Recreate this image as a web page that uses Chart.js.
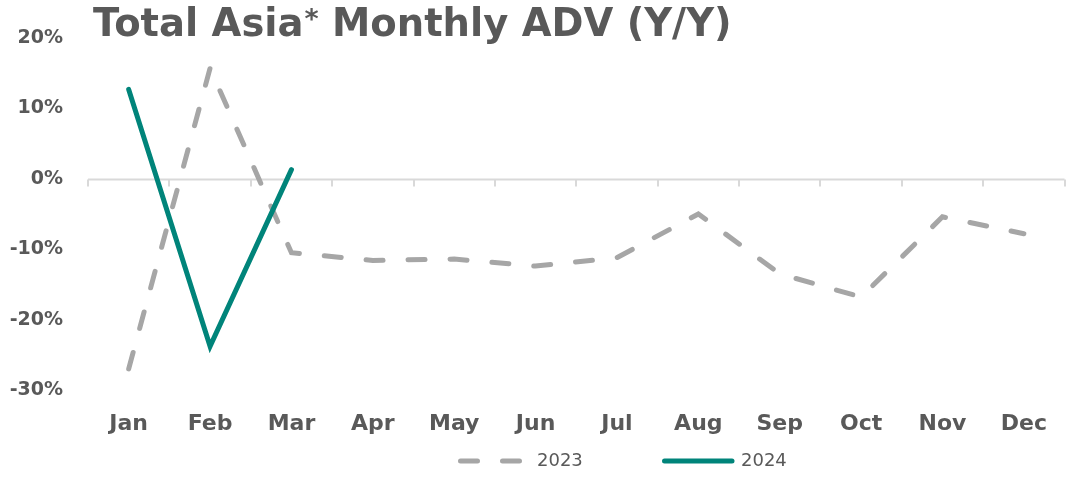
<!DOCTYPE html>
<html>
<head>
<meta charset="utf-8">
<script src="https://cdn.jsdelivr.net/npm/chart.js@4.4.1/dist/chart.umd.min.js"></script>
<style>
  html, body { margin: 0; padding: 0; background: #fff; }
  #wrap { position: relative; width: 1068px; height: 477px; }
</style>
</head>
<body>
<div id="wrap"><canvas id="myChart"></canvas></div>
<script>
// datos (variacion interanual, %)
var months = ['Jan', 'Feb', 'Mar', 'Apr', 'May', 'Jun', 'Jul', 'Aug', 'Sep', 'Oct', 'Nov', 'Dec'];
var adv2023 = [-27.0, 15.7, -10.5, -11.6, -11.4, -12.4, -11.2, -5.0, -13.5, -16.8, -5.4, -7.8];
var adv2024 = [12.7, -23.8, 1.3];
var seriesNames = ['2023', '2024'];
var titleParts = ['Total Asia', '*', ' Monthly ADV (Y/Y)'];

var textGray = '#595959';
var gray = '#a6a6a6';
var teal = '#00847a';

// linea del cero con marcas entre categorias
var zeroLine = {
    id: 'zeroLine',
    beforeDatasetsDraw: function (chart) {
        var ctx = chart.ctx, x = chart.scales.x, y = chart.scales.y;
        var y0 = Math.round(y.getPixelForValue(0)) + 0.5;
        var area = chart.chartArea;
        ctx.save();
        ctx.strokeStyle = '#d9d9d9';
        ctx.lineWidth = 2;
        ctx.beginPath();
        ctx.moveTo(area.left, y0);
        ctx.lineTo(area.right, y0);
        var step = x.getPixelForValue(1) - x.getPixelForValue(0);
        for (var i = 0; i <= months.length; i++) {
            var px = Math.round(x.getPixelForValue(i) - step / 2);
            ctx.moveTo(px, y0);
            ctx.lineTo(px, y0 + 7);
        }
        ctx.stroke();
        ctx.restore();
    }
};

// titulo y leyenda
var extras = {
    id: 'extras',
    afterDraw: function (chart) {
        var ctx = chart.ctx;
        ctx.save();
        ctx.fillStyle = textGray;
        ctx.textBaseline = 'alphabetic';
        ctx.textAlign = 'left';
        var tx = 93;
        ctx.font = 'bold 38.5px "DejaVu Sans"';
        ctx.fillText(titleParts[0], tx, 36);
        tx += ctx.measureText(titleParts[0]).width + 1;
        ctx.font = 'bold 27px "DejaVu Sans"';
        ctx.fillText(titleParts[1], tx, 28);
        tx += ctx.measureText(titleParts[1]).width;
        ctx.font = 'bold 38.5px "DejaVu Sans"';
        ctx.fillText(titleParts[2], tx, 36);

        // leyenda
        var starts = [458, 662];
        ctx.font = '18px "DejaVu Sans"';
        ctx.textBaseline = 'middle';
        chart.data.datasets.forEach(function (ds, i) {
            var lx = starts[i], ly = 461;
            ctx.strokeStyle = ds.borderColor;
            ctx.lineWidth = ds.borderWidth;
            ctx.lineCap = 'round';
            ctx.setLineDash(ds.borderDash || []);
            ctx.beginPath();
            ctx.moveTo(lx + 2.5, ly);
            ctx.lineTo(lx + 70, ly);
            ctx.stroke();
            ctx.setLineDash([]);
            ctx.fillStyle = textGray;
            ctx.fillText(ds.label, lx + 79, ly);
        });
        ctx.restore();
    }
};

var ctx = document.getElementById('myChart').getContext('2d');
var myChart = new Chart(ctx, {
    type: 'line',
    data: {
        labels: months,
        datasets: [{
            label: seriesNames[0],
            data: adv2023,
            borderColor: gray,
            backgroundColor: gray,
            borderWidth: 5,
            borderDash: [17, 25],
            borderCapStyle: 'round',
            pointRadius: 0,
            tension: 0,
            order: 2
        }, {
            label: seriesNames[1],
            data: adv2024,
            borderColor: teal,
            backgroundColor: teal,
            borderWidth: 5,
            borderCapStyle: 'round',
            borderJoinStyle: 'miter',
            pointRadius: 0,
            tension: 0,
            order: 1
        }]
    },
    options: {
        responsive: true,
        maintainAspectRatio: false,
        animation: false,
        layout: { padding: { top: 38, right: 1, bottom: 0, left: 0 } },
        plugins: {
            legend: { display: false },
            title: { display: false },
            tooltip: { enabled: false }
        },
        scales: {
            x: {
                offset: true,
                grid: { display: false, drawTicks: false },
                border: { display: false },
                ticks: {
                    color: textGray,
                    padding: 21,
                    maxRotation: 0,
                    font: { family: 'DejaVu Sans', size: 22, weight: 'bold' }
                },
                afterFit: function (scale) { scale.height = 87; }
            },
            y: {
                min: -30,
                max: 20,
                grid: { display: false, drawTicks: false },
                border: { display: false },
                ticks: {
                    stepSize: 10,
                    padding: 25,
                    color: textGray,
                    font: { family: 'DejaVu Sans', size: 19, weight: 'bold' },
                    callback: function (v) { return v + '%'; }
                },
                afterFit: function (scale) { scale.width = 88; }
            }
        }
    },
    plugins: [zeroLine, extras]
});
</script>
</body>
</html>
